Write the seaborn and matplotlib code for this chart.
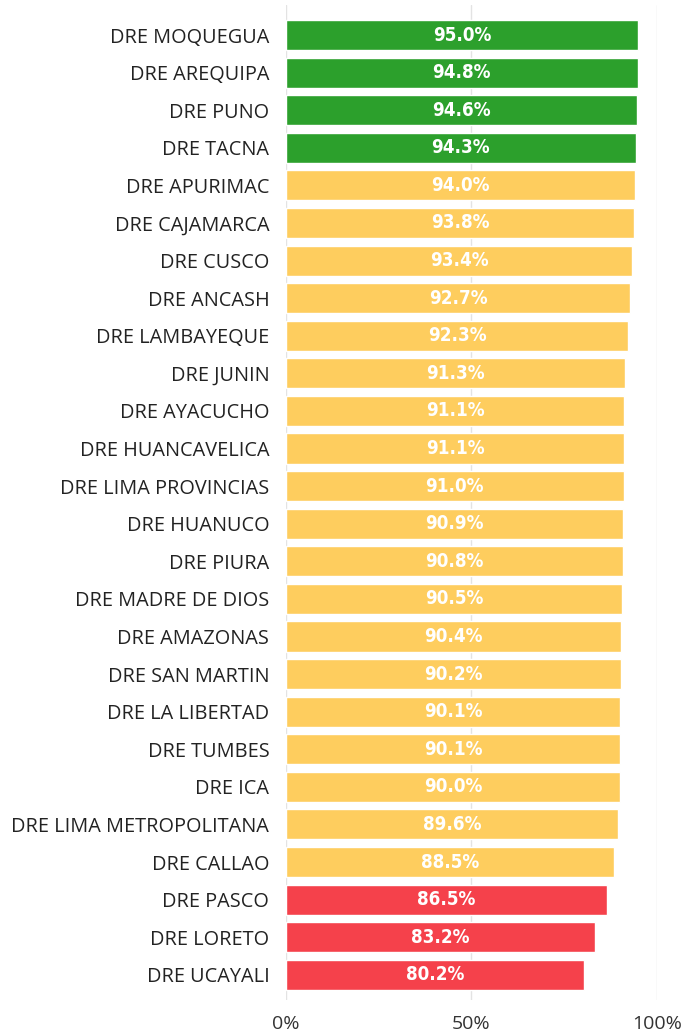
import matplotlib
matplotlib.use("Agg")
import matplotlib.pyplot as plt
import seaborn as sns
import pandas as pd

regions = ["DRE MOQUEGUA", "DRE AREQUIPA", "DRE PUNO", "DRE TACNA", "DRE APURIMAC",
           "DRE CAJAMARCA", "DRE CUSCO", "DRE ANCASH", "DRE LAMBAYEQUE", "DRE JUNIN",
           "DRE AYACUCHO", "DRE HUANCAVELICA", "DRE LIMA PROVINCIAS", "DRE HUANUCO",
           "DRE PIURA", "DRE MADRE DE DIOS", "DRE AMAZONAS", "DRE SAN MARTIN",
           "DRE LA LIBERTAD", "DRE TUMBES", "DRE ICA", "DRE LIMA METROPOLITANA",
           "DRE CALLAO", "DRE PASCO", "DRE LORETO", "DRE UCAYALI"]
values = [95.0, 94.8, 94.6, 94.3, 94.0, 93.8, 93.4, 92.7, 92.3, 91.3, 91.1, 91.1, 91.0,
          90.9, 90.8, 90.5, 90.4, 90.2, 90.1, 90.1, 90.0, 89.6, 88.5, 86.5, 83.2, 80.2]
groups = ["alto"] * 4 + ["medio"] * 19 + ["bajo"] * 3
group_colors = {"alto": "#2ca02c", "medio": "#fecd5e", "bajo": "#f5414b"}
x_ticks = [0, 50, 100]
x_ticklabels = ["0%", "50%", "100%"]

df = pd.DataFrame({"region": regions, "value": values, "group": groups})

sns.set_style("white")
plt.rcParams["font.family"] = ["Open Sans", "DejaVu Sans"]

fig = plt.figure(figsize=(6.87, 10.34), dpi=100)
ax = fig.add_axes([0.4163, 0.0329, 0.54, 0.9623])

sns.barplot(data=df, x="value", y="region", hue="group", palette=group_colors,
            dodge=False, width=0.8, legend=False, ax=ax, saturation=1)

for cont in ax.containers:
    labels = [f"{w:.1f}%" for w in cont.datavalues]
    ax.bar_label(cont, labels=labels, label_type="center", color="white",
                 fontsize=13.5, fontweight="bold", fontstretch="condensed",
                 family="DejaVu Sans")

ax.set_xlim(0, 100)
ax.set_ylim(len(regions) - 0.33, -0.8)
ax.set_xticks(x_ticks)
ax.set_xticklabels(x_ticklabels, fontsize=14, color="#333333")
ax.tick_params(axis="y", labelsize=14.3, labelcolor="#222222", length=0, pad=12)
ax.tick_params(axis="x", length=0, pad=11)
ax.set_xlabel("")
ax.set_ylabel("")
ax.grid(axis="x", color="#e3e3e3", linewidth=1)
ax.set_axisbelow(True)
for s in ax.spines.values():
    s.set_visible(False)

fig.savefig("out.png", dpi=100)
